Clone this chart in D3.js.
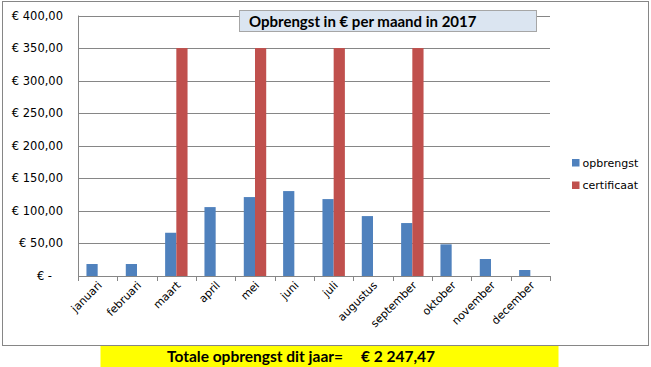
<!DOCTYPE html>
<html>
<head>
<meta charset="utf-8">
<script src="https://cdn.jsdelivr.net/npm/d3@7"></script>
<style>
  body { margin: 0; background: #fff; }
  svg { display: block; }
</style>
</head>
<body>
<script>
let months = ["januari", "februari", "maart", "april", "mei", "juni", "juli",
  "augustus", "september", "oktober", "november", "december"];
let opbrengst = [18.4, 18.4, 66.4, 105.8, 121.2, 130.4, 118.1, 92.0, 81.3, 48.6, 26.1, 9.2];
let certificaat = [0, 0, 350, 0, 350, 0, 350, 0, 350, 0, 0, 0];
let seriesNames = ["opbrengst", "certificaat"];
let seriesColors = ["#4f81bd", "#c0504d"];
let yTicks = [0, 50, 100, 150, 200, 250, 300, 350, 400];
let chartTitle = "Opbrengst in € per maand in 2017";
let totalLabel = "Totale opbrengst dit jaar=";
let totalValue = "€ 2 247,47";

let width = 651, height = 367;
let plot = { left: 78, right: 550, top: 15.5, bottom: 276 };

let svg = d3.select("body").append("svg")
  .attr("width", width)
  .attr("height", height);

// chart frame
svg.append("rect")
  .attr("x", 2.5).attr("y", 1.5)
  .attr("width", 646).attr("height", 344)
  .attr("fill", "#fff")
  .attr("stroke", "#868686");

let x = d3.scaleBand()
  .domain(months)
  .range([plot.left, plot.right])
  .paddingInner(0.43)
  .paddingOuter(0.215);

let xSub = d3.scaleBand()
  .domain(seriesNames)
  .range([0, x.bandwidth()]);

let y = d3.scaleLinear()
  .domain([0, 400])
  .range([plot.bottom, plot.top]);

// gridlines
svg.append("g")
  .selectAll("line")
  .data(yTicks)
  .enter()
  .append("line")
  .attr("x1", plot.left).attr("x2", plot.right)
  .attr("y1", d => Math.round(y(d)) + 0.5)
  .attr("y2", d => Math.round(y(d)) + 0.5)
  .attr("stroke", "#868686");

// y axis labels
function euro(d) {
  if (d == 0) return "€ -";
  return "€ " + d3.format(".2f")(d).replace(".", ",");
}

svg.append("g")
  .selectAll("text")
  .data(yTicks)
  .enter()
  .append("text")
  .attr("x", d => d == 0 ? 52 : 63)
  .attr("y", d => y(d) + 4)
  .attr("text-anchor", "end")
  .attr("font-family", "DejaVu Sans")
  .attr("font-size", "11.5px")
  .attr("fill", "#000")
  .text(euro);

// y axis line
svg.append("line")
  .attr("x1", plot.left + 0.5).attr("x2", plot.left + 0.5)
  .attr("y1", plot.top).attr("y2", plot.bottom)
  .attr("stroke", "#868686");

// bars
let rows = months.map((m, i) => ({ month: m, values: [opbrengst[i], certificaat[i]] }));

let groups = svg.append("g")
  .selectAll("g")
  .data(rows)
  .enter()
  .append("g")
  .attr("transform", d => "translate(" + x(d.month) + ",0)");

groups.selectAll("rect")
  .data(d => d.values.map((v, k) => ({ name: seriesNames[k], value: v, color: seriesColors[k] })))
  .enter()
  .append("rect")
  .filter(d => d.value > 0)
  .attr("x", d => xSub(d.name))
  .attr("width", xSub.bandwidth())
  .attr("y", d => y(d.value))
  .attr("height", d => plot.bottom - y(d.value))
  .attr("fill", d => d.color);

// x axis
let xAxis = svg.append("g");
xAxis.append("line")
  .attr("x1", plot.left).attr("x2", plot.right)
  .attr("y1", plot.bottom + 0.5).attr("y2", plot.bottom + 0.5)
  .attr("stroke", "#868686");

let step = x.step();
let boundaries = d3.range(months.length + 1).map(i => plot.left + i * step);
xAxis.selectAll("line.tick")
  .data(boundaries)
  .enter()
  .append("line")
  .attr("class", "tick")
  .attr("x1", d => Math.round(d) + 0.5).attr("x2", d => Math.round(d) + 0.5)
  .attr("y1", plot.bottom).attr("y2", plot.bottom + 5)
  .attr("stroke", "#868686");

xAxis.selectAll("text")
  .data(months)
  .enter()
  .append("text")
  .attr("text-anchor", "end")
  .attr("font-family", "DejaVu Sans")
  .attr("font-size", "11px")
  .attr("fill", "#000")
  .attr("transform", d => "translate(" + (x(d) + x.bandwidth() / 2 + 5) + "," + (plot.bottom + 10) + ") rotate(-45)")
  .text(d => d);

// title box
svg.append("rect")
  .attr("x", 239.5).attr("y", 10.5)
  .attr("width", 297).attr("height", 21)
  .attr("fill", "#dbe5f1")
  .attr("stroke", "#a6a6a6");

svg.append("text")
  .attr("x", 249).attr("y", 27)
  .attr("font-family", "Lato")
  .attr("font-weight", "bold")
  .attr("font-size", "15px")
  .attr("fill", "#000")
  .text(chartTitle);

// legend
let legend = svg.append("g")
  .selectAll("g")
  .data(seriesNames)
  .enter()
  .append("g")
  .attr("transform", (d, i) => "translate(572," + (159 + i * 22.5) + ")");

legend.append("rect")
  .attr("width", 7.5).attr("height", 7.5)
  .attr("fill", (d, i) => seriesColors[i]);

legend.append("text")
  .attr("x", 10.5).attr("y", 7.5)
  .attr("font-family", "DejaVu Sans")
  .attr("font-size", "11px")
  .attr("fill", "#000")
  .text(d => d);

// total box
svg.append("rect")
  .attr("x", 100.5).attr("y", 346)
  .attr("width", 458).attr("height", 21)
  .attr("fill", "#ffff00");

svg.append("text")
  .attr("x", 167).attr("y", 362)
  .attr("font-family", "Lato")
  .attr("font-weight", "bold")
  .attr("font-size", "15.5px")
  .attr("fill", "#000")
  .text(totalLabel);

svg.append("text")
  .attr("x", 361).attr("y", 362)
  .attr("font-family", "Lato")
  .attr("font-weight", "bold")
  .attr("font-size", "15.5px")
  .attr("fill", "#000")
  .text(totalValue);
</script>
</body>
</html>
